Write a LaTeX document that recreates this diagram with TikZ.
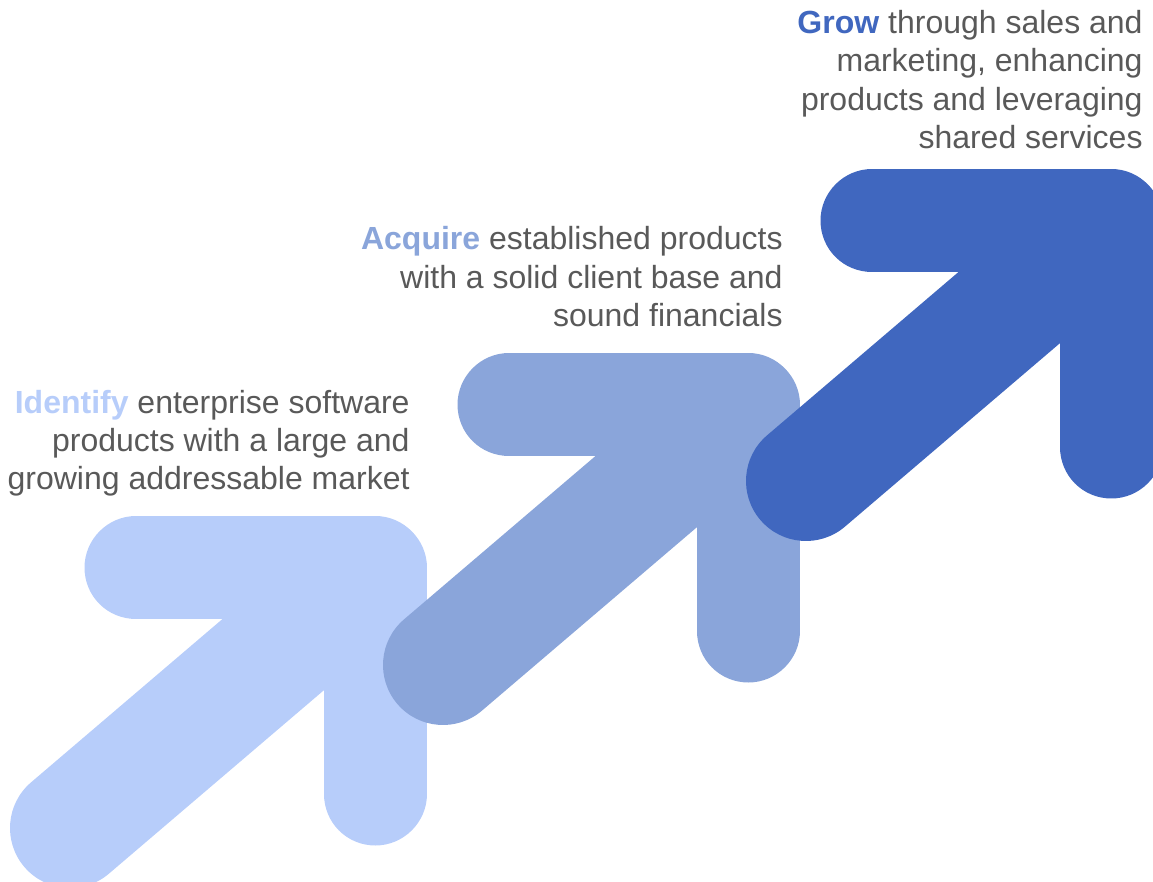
\documentclass[tikz,border=0pt]{standalone}
\usepackage{fontspec}
\setmainfont{Liberation Sans}

\definecolor{identifyblue}{HTML}{B7CDFA}
\definecolor{acquireblue}{HTML}{8AA5DA}
\definecolor{growblue}{HTML}{4067BF}
\definecolor{captiongray}{HTML}{595959}

\begin{document}
\begin{tikzpicture}[x=0.5pt,y=-0.5pt,
                    bar/.style={line width=51.5pt,line cap=round,line join=round},
                    shaft/.style={line width=60pt,line cap=round},
                    caption/.style={align=right,inner sep=0pt,anchor=base east,
                                    text=captiongray,
                                    font=\fontsize{16}{19.25}\selectfont}]

  \clip (0,0) rectangle (1153,882);

  % one stepped arrow per stage: bar with a round corner, then the shaft
  \foreach \cx/\cy/\col [count=\i] in {375/568/identifyblue,
                                       748/405/acquireblue,
                                       1111/221/growblue} {
    \coordinate (left\i)   at (\cx-239,\cy);
    \coordinate (corner\i) at (\cx,\cy);
    \coordinate (foot\i)   at (\cx,\cy+226);
    \coordinate (tail\i)   at (\cx-305,\cy+260);
    \coordinate (neck\i)   at (\cx-46,\cy+39);
    \draw[bar,draw=\col]   (left\i) -- (corner\i) -- (foot\i);
    \draw[shaft,draw=\col] (tail\i) -- (neck\i);
  }

  % captions sit on the baseline of their last line
  \node[caption] (identify) at (410,490)
    {\textcolor{identifyblue}{\textbf{Identify}} enterprise software\\
     products with a large and\\
     growing addressable market};
  \node[caption] (acquire) at (783,327)
    {\textcolor{acquireblue}{\textbf{Acquire}} established products\\
     with a solid client base and\\
     sound financials};
  \node[caption] (grow) at (1143,149)
    {\textcolor{growblue}{\textbf{Grow}} through sales and\\
     marketing, enhancing\\
     products and leveraging\\
     shared services};
\end{tikzpicture}
\end{document}
